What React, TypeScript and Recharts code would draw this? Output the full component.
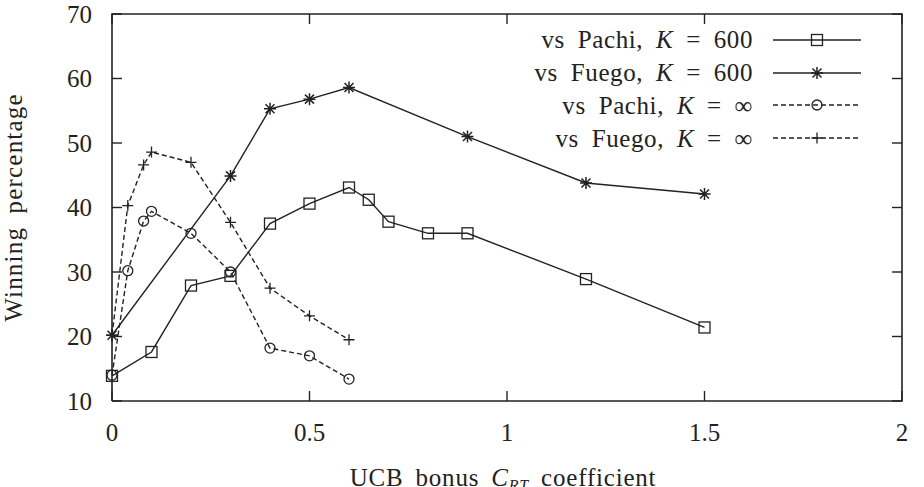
import React from 'react';
import { LineChart, Line, XAxis, YAxis, Legend } from 'recharts';

// UCB bonus coefficient vs winning percentage, four runs
const xTicks = [0, 0.5, 1, 1.5, 2];
const yTicks = [10, 20, 30, 40, 50, 60, 70];

const pachi600X = [0, 0.1, 0.2, 0.3, 0.4, 0.5, 0.6, 0.65, 0.7, 0.8, 0.9, 1.2, 1.5];
const pachi600Y = [13.9, 17.6, 27.9, 29.4, 37.5, 40.6, 43.1, 41.2, 37.8, 36.0, 36.0, 28.9, 21.4];

const fuego600X = [0, 0.3, 0.4, 0.5, 0.6, 0.9, 1.2, 1.5];
const fuego600Y = [20.2, 44.9, 55.3, 56.8, 58.6, 51.0, 43.8, 42.1];

const pachiInfX = [0, 0.04, 0.08, 0.1, 0.2, 0.3, 0.4, 0.5, 0.6];
const pachiInfY = [14.0, 30.2, 37.9, 39.4, 36.0, 30.0, 18.2, 17.0, 13.4];

const fuegoInfX = [0, 0.04, 0.08, 0.1, 0.2, 0.3, 0.4, 0.5, 0.6];
const fuegoInfY = [20.2, 40.3, 46.6, 48.6, 47.0, 37.7, 27.5, 23.2, 19.5];

const INK = '#222';
const FONT = '"Liberation Serif", "DejaVu Serif", serif';
const FS = 25;

type Kind = 'square' | 'star' | 'circle' | 'plus';

const rows = (xs: number[], ys: number[]) => xs.map((c, i) => ({ c, win: ys[i] }));

const series: { id: string; who: string; k: string; kind: Kind; dashed: boolean; data: { c: number; win: number }[] }[] = [
  { id: 'p600', who: 'Pachi', k: '600', kind: 'square', dashed: false, data: rows(pachi600X, pachi600Y) },
  { id: 'f600', who: 'Fuego', k: '600', kind: 'star', dashed: false, data: rows(fuego600X, fuego600Y) },
  { id: 'pinf', who: 'Pachi', k: '∞', kind: 'circle', dashed: true, data: rows(pachiInfX, pachiInfY) },
  { id: 'finf', who: 'Fuego', k: '∞', kind: 'plus', dashed: true, data: rows(fuegoInfX, fuegoInfY) },
];

// gnuplot-style frame with inward ticks on all four sides
const x0 = xTicks[0];
const x1 = xTicks[xTicks.length - 1];
const y0 = yTicks[0];
const y1 = yTicks[yTicks.length - 1];
const frameRows = [
  { c: x0, win: y0 },
  { c: x0, win: y1 },
  { c: x1, win: y1 },
  { c: x1, win: y0 },
  { c: x0, win: y0 },
];
const tickRows = [
  ...xTicks.map((t) => ({ c: t, win: y0, dx: 0, dy: -1 })),
  ...xTicks.map((t) => ({ c: t, win: y1, dx: 0, dy: 1 })),
  ...yTicks.map((t) => ({ c: x0, win: t, dx: 1, dy: 0 })),
  ...yTicks.map((t) => ({ c: x1, win: t, dx: -1, dy: 0 })),
];

function Marker({ kind, cx, cy }: { kind: Kind; cx: number; cy: number }) {
  const s = { stroke: INK, strokeWidth: 1.3, fill: 'none' };
  if (kind === 'square') return <rect x={cx - 5.5} y={cy - 5.5} width={11} height={11} {...s} />;
  if (kind === 'circle') return <circle cx={cx} cy={cy} r={5} {...s} />;
  if (kind === 'plus')
    return <path d={`M${cx - 5.5},${cy}H${cx + 5.5}M${cx},${cy - 5.5}V${cy + 5.5}`} {...s} />;
  return (
    <path
      d={`M${cx - 6},${cy}H${cx + 6}M${cx},${cy - 6}V${cy + 6}M${cx - 4.5},${cy - 4.5}L${cx + 4.5},${cy + 4.5}M${cx - 4.5},${cy + 4.5}L${cx + 4.5},${cy - 4.5}`}
      {...s}
      strokeWidth={1.5}
    />
  );
}

const txt = { fontFamily: FONT, fontSize: FS, fill: INK };

const XTick = (p: any) => (
  <text x={p.x} y={p.y + 40} textAnchor="middle" {...txt}>{p.payload.value}</text>
);
const YTick = (p: any) => (
  <text x={p.x - 20} y={p.y + 8.5} textAnchor="end" {...txt}>{p.payload.value}</text>
);

const XTitle = (p: any) => {
  const vb = p.viewBox;
  return (
    <text x={vb.x + vb.width / 2 - 4} y={vb.y + vb.height - 1} textAnchor="middle" letterSpacing={0.8} wordSpacing={5} {...txt}>
      UCB bonus <tspan fontStyle="italic">C</tspan>
      <tspan fontStyle="italic" fontSize={16} dy={5}>RT</tspan>
      <tspan dy={-5}> coefficient</tspan>
    </text>
  );
};
const YTitle = (p: any) => {
  const vb = p.viewBox;
  const cy = vb.y + vb.height / 2;
  return (
    <text x={22} y={cy} textAnchor="middle" letterSpacing={1.2} wordSpacing={6} transform={`rotate(-90 22 ${cy})`} {...txt}>
      Winning percentage
    </text>
  );
};

function LegendBox() {
  return (
    <div style={{ fontFamily: FONT, fontSize: FS, color: INK, letterSpacing: 0.6, wordSpacing: 6 }}>
      {series.map((s) => (
        <div key={s.id} style={{ display: 'flex', alignItems: 'center', height: 32.7 }}>
          <span style={{ width: 253, textAlign: 'right', whiteSpace: 'nowrap', lineHeight: 1 }}>
            vs {s.who}, <i>K</i> = {s.k}
          </span>
          <svg width={88} height={20} style={{ marginLeft: 20 }}>
            <line x1={0} y1={10} x2={88} y2={10} stroke={INK} strokeWidth={1.3} strokeDasharray={s.dashed ? '5 3' : undefined} />
            <Marker kind={s.kind} cx={44} cy={10} />
          </svg>
        </div>
      ))}
    </div>
  );
}

export default function App() {
  return (
    <div style={{ position: 'absolute', left: 0, top: 0, background: '#fff' }}>
      <LineChart width={924} height={487} margin={{ top: 14, right: 22, left: 0, bottom: 0 }}>
        <XAxis
          dataKey="c"
          type="number"
          domain={[x0, x1]}
          ticks={xTicks}
          height={86}
          tickSize={0}
          tickMargin={0}
          tickLine={false}
          axisLine={false}
          tick={<XTick />}
          label={{ content: <XTitle /> }}
        />
        <YAxis
          type="number"
          domain={[y0, y1]}
          ticks={yTicks}
          width={112}
          tickSize={0}
          tickMargin={0}
          tickLine={false}
          axisLine={false}
          tick={<YTick />}
          label={{ content: <YTitle /> }}
        />
        <Legend
          layout="horizontal"
          verticalAlign="middle"
          align="center"
          content={() => <LegendBox />}
          wrapperStyle={{ position: 'absolute', left: 500, top: 23.6, width: 400, height: 131 }}
        />
        <Line
          data={frameRows}
          dataKey="win"
          stroke={INK}
          strokeWidth={1.6}
          dot={false}
          activeDot={false}
          legendType="none"
          isAnimationActive={false}
        />
        <Line
          data={tickRows}
          dataKey="win"
          stroke="none"
          dot={(p: any) => (
            <line
              key={`tk-${p.index}`}
              x1={p.cx}
              y1={p.cy}
              x2={p.cx + p.payload.dx * 10}
              y2={p.cy + p.payload.dy * 10}
              stroke={INK}
              strokeWidth={1.4}
            />
          )}
          activeDot={false}
          legendType="none"
          isAnimationActive={false}
        />
        {series.map((s) => (
          <Line
            key={s.id}
            data={s.data}
            dataKey="win"
            name={s.id}
            stroke={INK}
            strokeWidth={1.4}
            strokeDasharray={s.dashed ? '5 3' : undefined}
            dot={(p: any) => <Marker key={`${s.id}-${p.index}`} kind={s.kind} cx={p.cx} cy={p.cy} />}
            activeDot={false}
            isAnimationActive={false}
          />
        ))}
      </LineChart>
    </div>
  );
}
